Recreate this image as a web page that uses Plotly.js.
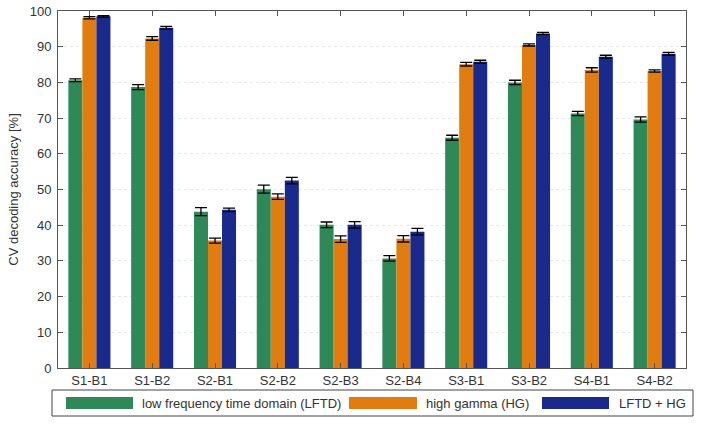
<!DOCTYPE html>
<html>
<head>
<meta charset="utf-8">
<script src="https://cdn.plot.ly/plotly-3.0.1.min.js"></script>
<style>html,body{margin:0;padding:0;background:#fff;}#chart{width:701px;height:426px;}</style>
</head>
<body>
<div id="chart"></div>
<script>
const categories = ['S1-B1','S1-B2','S2-B1','S2-B2','S2-B3','S2-B4','S3-B1','S3-B2','S4-B1','S4-B2'];
const seriesNames = ['low frequency time domain (LFTD)','high gamma (HG)','LFTD + HG'];
const lftd    = [80.6, 78.7, 43.8, 50.1, 40.1, 30.7, 64.5, 80.0, 71.3, 69.6];
const lftdErr = [0.4, 0.7, 1.1, 1.1, 0.8, 0.75, 0.7, 0.6, 0.6, 0.75];
const hg      = [98.1, 92.3, 35.7, 48.0, 36.1, 36.2, 85.1, 90.5, 83.5, 83.2];
const hgErr   = [0.3, 0.5, 0.7, 0.75, 0.9, 0.9, 0.5, 0.3, 0.6, 0.3];
const comb    = [98.5, 95.3, 44.3, 52.5, 40.1, 38.2, 85.8, 93.7, 87.2, 88.0];
const combErr = [0.2, 0.4, 0.5, 0.9, 0.9, 0.9, 0.4, 0.3, 0.4, 0.4];
const colors = ['#2e8857', '#e07c10', '#1a2a8c'];

const W = 701, H = 426, M = {l: 58, r: 15, t: 11, b: 58};
const pw = W - M.l - M.r, ph = H - M.t - M.b;
const px = x => (x - M.l) / pw;
const py = y => (H - M.b - y) / ph;

const values = [lftd, hg, comb];
const errs = [lftdErr, hgErr, combErr];
const traces = values.map((v, i) => ({
  type: 'bar', x: categories, y: v, name: seriesNames[i],
  marker: {color: colors[i], line: {width: 0}},
  error_y: {type: 'data', array: errs[i], visible: true, color: '#000', thickness: 1.3, width: 6},
  showlegend: false
}));

const font = {family: 'Liberation Sans, Arial, sans-serif', size: 13, color: '#333'};
const shapes = [
  {type: 'rect', xref: 'paper', yref: 'paper', x0: px(52), x1: px(693), y0: py(416), y1: py(390),
   line: {color: '#444', width: 1}, fillcolor: 'rgba(0,0,0,0)'}
];
const annotations = [];
const sw = [[66, 133, 140], [349, 417, 424], [542, 609, 617]];
sw.forEach((s, i) => {
  shapes.push({type: 'rect', xref: 'paper', yref: 'paper', x0: px(s[0]), x1: px(s[1]), y0: py(409), y1: py(397),
    line: {width: 0}, fillcolor: colors[i]});
  annotations.push({xref: 'paper', yref: 'paper', x: px(s[2]), y: py(403), xanchor: 'left', yanchor: 'middle',
    text: seriesNames[i], showarrow: false, font: font});
});

const layout = {
  width: W, height: H, margin: M,
  paper_bgcolor: '#fff', plot_bgcolor: '#fff',
  font: font,
  barmode: 'group', bargap: 0.33, bargroupgap: 0,
  xaxis: {
    range: [-0.5, 9.5], showline: true, linecolor: '#555', linewidth: 1, mirror: 'ticks',
    ticks: 'inside', ticklen: 5, tickcolor: '#555', showgrid: false, tickfont: font
  },
  yaxis: {
    range: [0, 100], dtick: 10, showline: true, linecolor: '#555', linewidth: 1, mirror: 'ticks',
    ticks: 'inside', ticklen: 5, tickcolor: '#555', showgrid: true, gridcolor: '#e8e8e8', griddash: 'dot',
    zeroline: false, tickfont: font, ticklabelstandoff: 3,
    title: {text: 'CV decoding accuracy [%]', font: font, standoff: 8}
  },
  shapes: shapes, annotations: annotations,
  showlegend: false
};
Plotly.newPlot('chart', traces, layout, {displayModeBar: false, staticPlot: true});
</script>
</body>
</html>
